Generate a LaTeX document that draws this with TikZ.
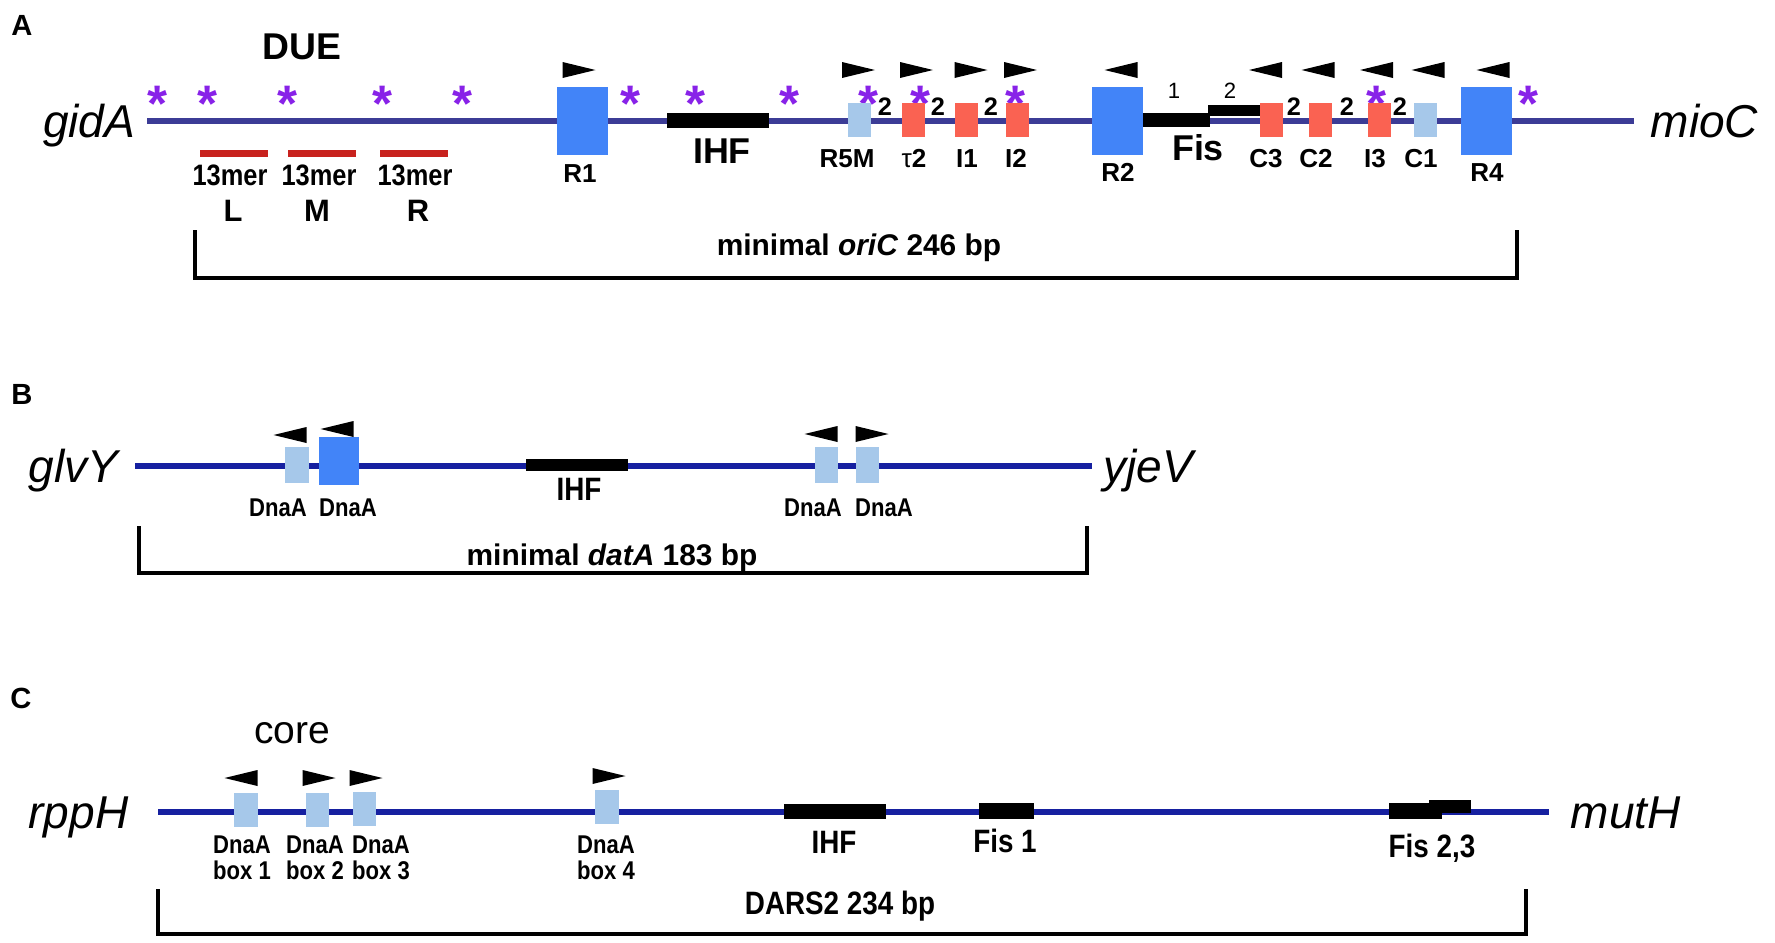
\documentclass[tikz,border=0pt]{standalone}
\usepackage{fontspec}
\setmainfont{Liberation Sans}
\newfontfamily\narrowsans{Liberation Sans}[FakeStretch=0.86]
\usepackage{xcolor}

\definecolor{strandA}{RGB}{60,60,150}
\definecolor{strandBC}{RGB}{22,32,160}
\definecolor{boxR}{RGB}{66,132,248}
\definecolor{boxpale}{RGB}{166,200,234}
\definecolor{boxI}{RGB}{250,98,82}
\definecolor{merred}{RGB}{200,34,30}
\definecolor{astcol}{RGB}{136,34,232}

\begin{document}
\begin{tikzpicture}[x=0.01cm,y=-0.01cm,
	strand/.style={line width=1.8pt,strandA},
	strandb/.style={line width=1.45pt,strandBC},
	bracket/.style={line width=1.3pt,black},
	bigbox/.style={fill=boxR,inner sep=0,minimum width=0.51cm,minimum height=0.68cm},
	smallbox/.style={inner sep=0,minimum width=0.23cm,minimum height=0.34cm},
	pale/.style={smallbox,fill=boxpale},
	coral/.style={smallbox,fill=boxI},
	bar/.style={fill=black,inner sep=0,minimum height=0.15cm},
	mer/.style={fill=merred,inner sep=0,minimum width=0.68cm,minimum height=0.07cm},
	txt/.style={inner sep=0,anchor=base,font=\bfseries\fontsize{7.4}{8}\selectfont},
	txtbig/.style={txt,font=\bfseries\fontsize{10.2}{11}\selectfont},
	txtsmall/.style={txt,font=\narrowsans\bfseries\fontsize{7.3}{8}\selectfont},
	txtmid/.style={txt,font=\narrowsans\bfseries\fontsize{9.2}{10}\selectfont},
	panel/.style={txt,font=\bfseries\fontsize{8.3}{9}\selectfont},
	gene/.style={inner sep=0,font=\itshape\fontsize{13.1}{14}\selectfont},
	astk/.style={inner sep=0,anchor=base,text=astcol,font=\bfseries\fontsize{14.6}{15}\selectfont},
	fwd/.pic={\fill (-16.5,-8) -- (16.5,0) -- (-16.5,8) -- cycle;},
	rev/.pic={\fill (16.5,-8) -- (-16.5,0) -- (16.5,8) -- cycle;}]
	\useasboundingbox (0,0) rectangle (1775,942);

	% (A) oriC
	\node[panel] (pa) at (22,35) {A};
	\node[txt,font=\bfseries\fontsize{10.6}{11}\selectfont] (due) at (302,59) {DUE};
	\coordinate (a0) at (147,121);
	\coordinate (a1) at (1634,121);
	\draw[strand] (a0) -- (a1);
	\node[gene,anchor=base east] (gida) at (136,137) {gidA};
	\node[gene,anchor=base west] (mioc) at (1650,137) {mioC};

	\node[astk] (s1) at (157,121) {*};
	\node[astk] (s2) at (207,121) {*};
	\node[astk] (s3) at (287,121) {*};
	\node[astk] (s4) at (382,121) {*};
	\node[astk] (s5) at (462,121) {*};
	\node[astk] (s6) at (630,121) {*};
	\node[astk] (s7) at (695,121) {*};
	\node[astk] (s8) at (789,121) {*};
	\node[astk] (s9) at (868,121) {*};
	\node[astk] (s10) at (920,121) {*};
	\node[astk] (s11) at (1015,121) {*};
	\node[astk] (s12) at (1376,121) {*};
	\node[astk] (s13) at (1528,121) {*};

	\node[mer] (m1) at (234,153) {};
	\node[mer] (m2) at (322,153) {};
	\node[mer] (m3) at (414,153) {};
	\node[txt,font=\narrowsans\bfseries\fontsize{8.4}{9}\selectfont] (m1t) at (230,185) {13mer};
	\node[txt,font=\narrowsans\bfseries\fontsize{8.4}{9}\selectfont] (m2t) at (319,185) {13mer};
	\node[txt,font=\narrowsans\bfseries\fontsize{8.4}{9}\selectfont] (m3t) at (415,185) {13mer};
	\node[txt,font=\bfseries\fontsize{8.8}{9}\selectfont] (ml) at (233,221) {L};
	\node[txt,font=\bfseries\fontsize{8.8}{9}\selectfont] (mm) at (317,221) {M};
	\node[txt,font=\bfseries\fontsize{8.8}{9}\selectfont] (mr) at (418,221) {R};

	\node[bar,minimum width=1.02cm] (ihfa) at (718,120.5) {};
	\node[txtbig] (ihfat) at (722,163) {IHF};
	\node[bar,minimum width=0.67cm,minimum height=0.14cm] (fis1) at (1176.5,120) {};
	\node[bar,minimum width=0.56cm,minimum height=0.11cm] (fis2) at (1236,110.5) {};
	\node[txtbig] (fist) at (1198,160) {Fis};
	\node[txt,font=\fontsize{6.3}{7}\selectfont] (fis1t) at (1174,98) {1};
	\node[txt,font=\fontsize{6.3}{7}\selectfont] (fis2t) at (1230,98) {2};

	\node[bigbox] (r1) at (582.5,121) {};
	\node[pale] (r5m) at (859.5,120) {};
	\node[coral] (tau2) at (913.5,120) {};
	\node[coral] (i1) at (966.5,120) {};
	\node[coral] (i2) at (1017.5,120) {};
	\node[bigbox] (r2) at (1117.5,121) {};
	\node[coral] (c3) at (1271,120) {};
	\node[coral] (c2) at (1320.5,120) {};
	\node[coral] (i3) at (1379,120) {};
	\node[pale] (c1) at (1425,120) {};
	\node[bigbox] (r4) at (1486.5,121) {};

	\node[txt] (r1t) at (580,182) {R1};
	\node[txt] (r5mt) at (847,167) {R5M};
	\node[txt] (tau2t) at (914,167) {{\mdseries τ}2};
	\node[txt] (i1t) at (967,167) {I1};
	\node[txt] (i2t) at (1016,167) {I2};
	\node[txt] (r2t) at (1118,181) {R2};
	\node[txt] (c3t) at (1266,167) {C3};
	\node[txt] (c2t) at (1316,167) {C2};
	\node[txt] (i3t) at (1375,167) {I3};
	\node[txt] (c1t) at (1421,167) {C1};
	\node[txt] (r4t) at (1487,181) {R4};

	\node[txt,font=\bfseries\fontsize{7.2}{8}\selectfont] (sp1) at (885,115) {2};
	\node[txt,font=\bfseries\fontsize{7.2}{8}\selectfont] (sp2) at (938,115) {2};
	\node[txt,font=\bfseries\fontsize{7.2}{8}\selectfont] (sp3) at (991,115) {2};
	\node[txt,font=\bfseries\fontsize{7.2}{8}\selectfont] (sp4) at (1294,115) {2};
	\node[txt,font=\bfseries\fontsize{7.2}{8}\selectfont] (sp5) at (1347,115) {2};
	\node[txt,font=\bfseries\fontsize{7.2}{8}\selectfont] (sp6) at (1400,115) {2};

	\pic at (579,70) {fwd};
	\pic at (858.5,70) {fwd};
	\pic at (916.5,70) {fwd};
	\pic at (971,70) {fwd};
	\pic at (1020.5,70) {fwd};
	\pic at (1121,70) {rev};
	\pic at (1265.5,70) {rev};
	\pic at (1318,70) {rev};
	\pic at (1376.5,70) {rev};
	\pic at (1428,70) {rev};
	\pic at (1493,70) {rev};

	\coordinate (oriL) at (195,230);
	\coordinate (oriR) at (1517,230);
	\draw[bracket] (oriL) -- ++(0,48) -| (oriR);
	\node[txt,font=\bfseries\fontsize{8.5}{9}\selectfont] (orit) at (859,255) {minimal \textit{oriC} 246 bp};

	% (B) datA
	\node[panel] (pb) at (22,404) {B};
	\coordinate (b0) at (135,466);
	\coordinate (b1) at (1092,466);
	\draw[strandb] (b0) -- (b1);
	\node[gene,anchor=base east] (glvy) at (119,482) {glvY};
	\node[gene,anchor=base west] (yjev) at (1103,482) {yjeV};

	\node[bar,minimum width=1.02cm,minimum height=0.12cm] (ihfb) at (577,465) {};
	\node[txtmid] (ihfbt) at (579,500) {IHF};

	\node[pale,minimum height=0.35cm] (d1) at (297,465) {};
	\node[fill=boxR,inner sep=0,minimum width=0.40cm,minimum height=0.48cm] (d2) at (339,461) {};
	\node[pale,minimum height=0.35cm] (d3) at (826,465) {};
	\node[pale,minimum height=0.35cm] (d4) at (867,465) {};
	\pic at (290,435) {rev};
	\pic at (337,429) {rev};
	\pic at (821,434) {rev};
	\pic at (872,434) {fwd};
	\node[txtsmall] (d1t) at (278,516) {DnaA};
	\node[txtsmall] (d2t) at (348,516) {DnaA};
	\node[txtsmall] (d3t) at (813,516) {DnaA};
	\node[txtsmall] (d4t) at (884,516) {DnaA};

	\coordinate (datL) at (139,526);
	\coordinate (datR) at (1087,526);
	\draw[bracket] (datL) -- ++(0,47) -| (datR);
	\node[txt,font=\bfseries\fontsize{8.5}{9}\selectfont] (datt) at (612,565) {minimal \textit{datA} 183 bp};

	% (C) DARS2
	\node[panel] (pc) at (21,708) {C};
	\node[inner sep=0,anchor=base,font=\fontsize{11.1}{12}\selectfont] (core) at (292,743) {core};
	\coordinate (c0) at (158,812);
	\coordinate (c1) at (1549,812);
	\draw[strandb] (c0) -- (c1);
	\node[gene,anchor=base east] (rpph) at (129,828) {rppH};
	\node[gene,anchor=base west] (muth) at (1570,828) {mutH};

	\node[bar,minimum width=1.02cm] (ihfc) at (835,811.5) {};
	\node[bar,minimum width=0.55cm,minimum height=0.16cm] (fisc1) at (1006.5,811) {};
	\node[bar,minimum width=0.53cm,minimum height=0.16cm] (fisc2) at (1415.5,811) {};
	\node[bar,minimum width=0.42cm,minimum height=0.13cm] (fisc3) at (1450,806.5) {};
	\node[txtmid] (ihfct) at (834,853) {IHF};
	\node[txtmid] (fisc1t) at (1005,852) {Fis 1};
	\node[txtmid] (fisc2t) at (1432,857) {Fis 2,3};

	\node[pale] (e1) at (246,810) {};
	\node[pale] (e2) at (317.5,810) {};
	\node[pale] (e3) at (364.5,808.5) {};
	\node[pale] (e4) at (607,807) {};
	\pic at (241,778) {rev};
	\pic at (319,778) {fwd};
	\pic at (366,778) {fwd};
	\pic at (609,776) {fwd};
	\node[txtsmall] (e1a) at (242,853) {DnaA};
	\node[txtsmall] (e2a) at (315,853) {DnaA};
	\node[txtsmall] (e3a) at (381,853) {DnaA};
	\node[txtsmall] (e4a) at (606,853) {DnaA};
	\node[txtsmall] (e1b) at (242,879) {box 1};
	\node[txtsmall] (e2b) at (315,879) {box 2};
	\node[txtsmall] (e3b) at (381,879) {box 3};
	\node[txtsmall] (e4b) at (606,879) {box 4};

	\coordinate (darL) at (158,889);
	\coordinate (darR) at (1526,889);
	\draw[bracket] (darL) -- ++(0,45) -| (darR);
	\node[txtmid] (dart) at (840,914) {DARS2 234 bp};
\end{tikzpicture}
\end{document}
